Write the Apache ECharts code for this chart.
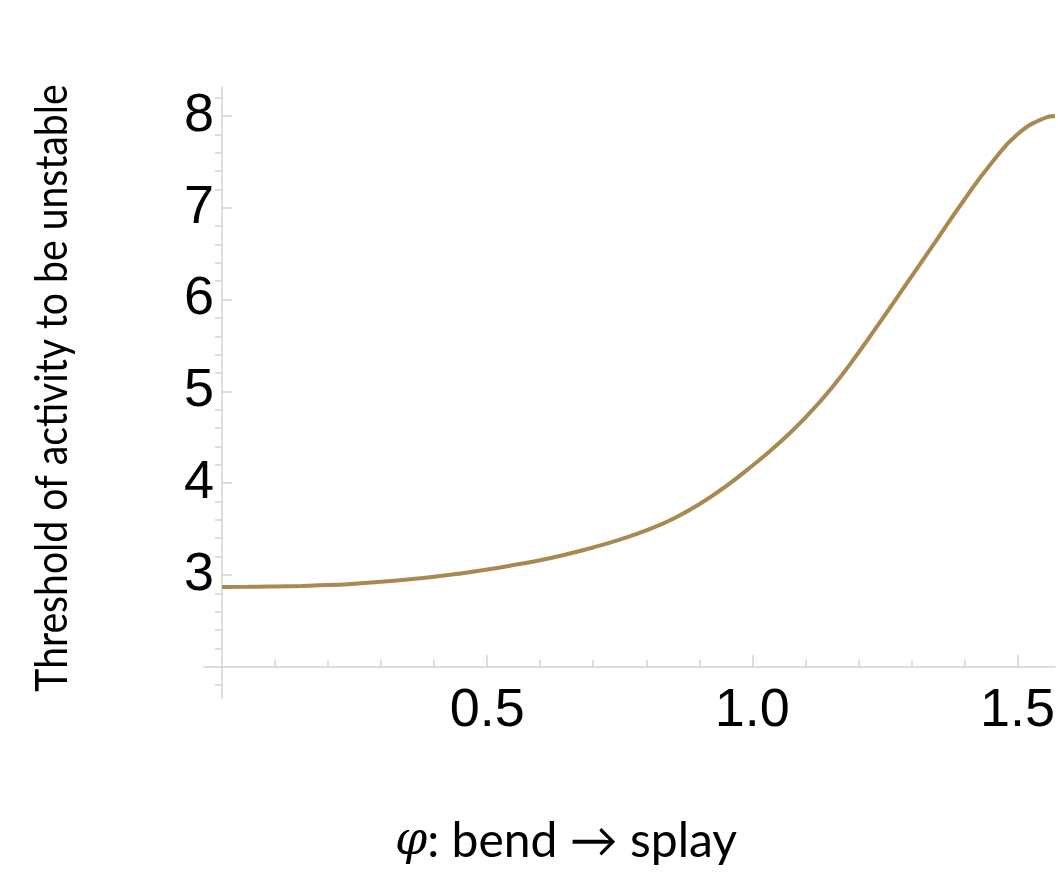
<!DOCTYPE html>
<html><head><meta charset="utf-8">
<script src="https://cdn.jsdelivr.net/npm/echarts@6/dist/echarts.min.js"></script>
<style>html,body{margin:0;padding:0;background:#fff}#c{width:1058px;height:876px}</style>
</head><body><div id="c"></div>
<script>
// data (phi in radians, 0 .. pi/2)
const phi = [0, 0.05, 0.10, 0.15, 0.20, 0.25, 0.30, 0.35, 0.40, 0.45, 0.50, 0.55, 0.60, 0.65, 0.70, 0.75,
             0.80, 0.85, 0.90, 0.95, 1.00, 1.05, 1.10, 1.15, 1.20, 1.25, 1.30, 1.35, 1.40, 1.45, 1.50, 1.55, 1.5708];
const threshold = [2.870, 2.871, 2.875, 2.881, 2.890, 2.905, 2.925, 2.950, 2.980, 3.017, 3.060, 3.108, 3.160, 3.225, 3.300, 3.385,
                   3.485, 3.610, 3.770, 3.965, 4.190, 4.435, 4.715, 5.040, 5.420, 5.830, 6.250, 6.670, 7.090, 7.480, 7.800, 7.975, 8.000];
const xMajorTicks = [0.5, 1.0, 1.5];
const xMinorTicks = [0.1, 0.2, 0.3, 0.4, 0.6, 0.7, 0.8, 0.9, 1.1, 1.2, 1.3, 1.4];
const yMajorTicks = [3, 4, 5, 6, 7, 8];
const yMinorTicks = [1.8, 2.2, 2.4, 2.6, 2.8, 3.2, 3.4, 3.6, 3.8, 4.2, 4.4, 4.6, 4.8, 5.2, 5.4, 5.6, 5.8, 6.2, 6.4, 6.6, 6.8, 7.2, 7.4, 7.6, 7.8, 8.2];
const yTitle = 'Threshold of activity to be unstable';
const xTitleRich = '{i|φ}: bend → splay';

const X_MIN = -0.034, X_MAX = Math.PI / 2;
const Y_MIN = 1.66, Y_MAX = 8.315, Y_AXIS_CROSS = 2;

const chart = echarts.init(document.getElementById('c'), null, {renderer: 'canvas'});
const axisGray = '#d4d4d4';
const labelFont = {fontFamily: '"Liberation Sans", Arial, sans-serif', fontSize: 54, color: '#000'};

function xAx(ticks, labels, len, showLine) {
  return {
    type: 'value', min: X_MIN, max: X_MAX, position: 'bottom',
    axisLine: {show: showLine, onZero: false, lineStyle: {color: axisGray, width: 1.5}},
    axisTick: {show: true, inside: true, length: len, customValues: ticks, lineStyle: {color: axisGray, width: 1.5}},
    axisLabel: labels ? Object.assign({show: true, customValues: labels, margin: 17,
      formatter: v => v.toFixed(1)}, labelFont) : {show: false},
    splitLine: {show: false}
  };
}
function yAx(ticks, labels, len, showLine) {
  return {
    type: 'value', min: Y_MIN, max: Y_MAX,
    axisLine: {show: showLine, onZero: true, lineStyle: {color: axisGray, width: 1.5}},
    axisTick: {show: true, inside: true, length: len, customValues: ticks, lineStyle: {color: axisGray, width: 1.5}},
    axisLabel: labels ? Object.assign({show: true, customValues: labels, margin: -10,
      formatter: v => String(v)}, labelFont) : {show: false},
    splitLine: {show: false}
  };
}

chart.setOption({
  animation: false,
  backgroundColor: '#fff',
  grid: {left: 204, right: 2, top: 87, bottom: 178, containLabel: false},
  xAxis: [xAx(xMajorTicks, xMajorTicks, 12, true), xAx(xMinorTicks, null, 7, false)],
  yAxis: [yAx(yMajorTicks, yMajorTicks, 10, true), yAx(yMinorTicks, null, 7, false)],
  series: [{
    type: 'line', xAxisIndex: 0, yAxisIndex: 0,
    data: phi.map((p, i) => [p, threshold[i]]),
    smooth: 0.5, showSymbol: false, clip: false,
    lineStyle: {color: '#a8894f', width: 4}
  }],
  graphic: [
    {type: 'text', x: 52, y: 388, rotation: Math.PI / 2, scaleX: 0.87,
     style: {text: yTitle, font: '45px Lato', fill: '#000', align: 'center', verticalAlign: 'middle'}},
    {type: 'text', x: 566, y: 842,
     style: {text: xTitleRich, font: '48px Lato', fill: '#000', align: 'center', verticalAlign: 'middle',
       rich: {i: {fontStyle: 'italic', fontFamily: 'DejaVu Serif', fontSize: 46}}}}
  ]
});

// place the x axis where y = 2 (the axis crossing), derived from the y scale
const pCross = chart.convertToPixel({yAxisIndex: 0}, Y_AXIS_CROSS);
const pMin = chart.convertToPixel({yAxisIndex: 0}, Y_MIN);
const off = -(pMin - pCross);
chart.setOption({xAxis: [{offset: off}, {offset: off}]});
</script></body></html>
